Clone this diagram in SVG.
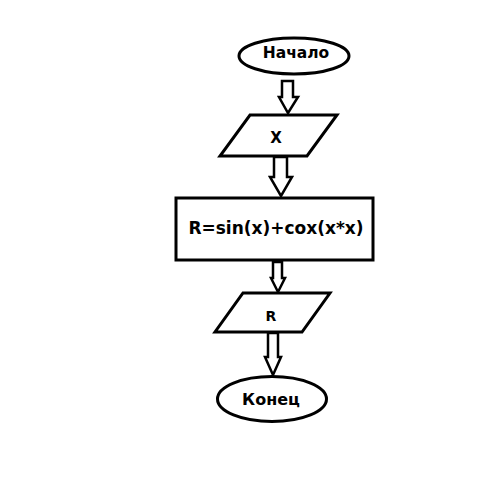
<svg xmlns="http://www.w3.org/2000/svg" width="500" height="501" viewBox="0 0 500 501">
<style>
.s{fill:#fff;stroke:#000;stroke-width:3;stroke-linejoin:miter}
.a{fill:#fff;stroke:#000;stroke-width:2.5;stroke-linejoin:miter}
.t{font-family:"DejaVu Sans",Verdana,sans-serif;font-weight:bold;fill:#000;text-anchor:middle}
</style>
<rect width="500" height="501" fill="#fff"/>
<g id="connectors">
<path class="a" d="M282,81 H293 V97 H298 L288,113 L279,97 H282 Z"/>
<path class="a" d="M274,157 H287 V177 H292 L281,196 L270,177 H274 Z"/>
<path class="a" d="M273,262 H282 V278 H285 L278,292 L271,278 H273 Z"/>
<path class="a" d="M268,333 H278 V357 H281 L273,375 L265,357 H268 Z"/>
</g>
<g id="start">
<ellipse class="s" cx="294" cy="56" rx="55" ry="18"/>
<text class="t" x="296" y="58" font-size="15.5">Начало</text>
</g>
<g id="input-x">
<polygon class="s" points="250,115 337,115 307,156 220,156"/>
<text class="t" x="276" y="143" font-size="15">X</text>
</g>
<g id="process">
<rect class="s" x="176" y="198" width="197" height="62"/>
<text class="t" x="276" y="234" font-size="17">R=sin(x)+cox(x*x)</text>
</g>
<g id="output-r">
<polygon class="s" points="243,293 330,293 302,332 215,332"/>
<text class="t" x="271" y="321" font-size="14">R</text>
</g>
<g id="end">
<ellipse class="s" cx="272" cy="399" rx="54.5" ry="22.5"/>
<text class="t" x="271" y="405" font-size="16">Конец</text>
</g>
</svg>
